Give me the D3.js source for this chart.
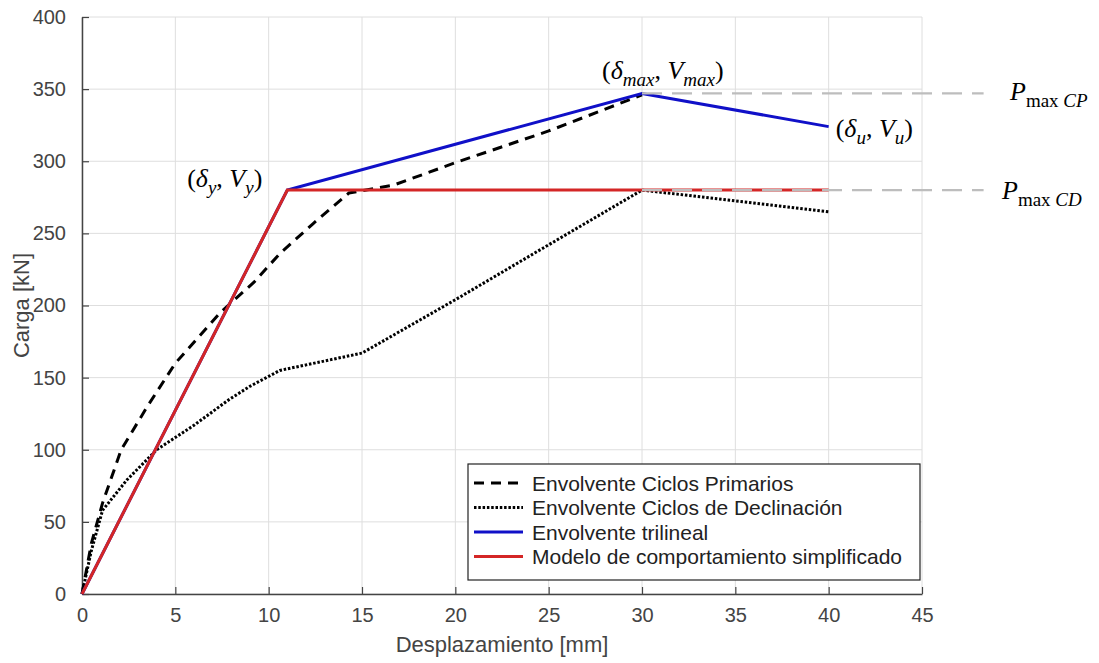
<!DOCTYPE html>
<html>
<head>
<meta charset="utf-8">
<script src="https://cdn.jsdelivr.net/npm/d3@7"></script>
<style>
  body { margin: 0; background: #fff; }
  svg { font-family: "Liberation Sans", Arial, sans-serif; }
</style>
</head>
<body>
<div id="chart"></div>
<script>
// ---- data ----
var primarios = [[0,0],[0.5,35],[1.1,63],[2.1,100],[3.5,130],[5,160],[7.4,195],[9.2,216],
                 [10.6,236],[12.4,257],[14.3,278],[16.7,283.5],[20,299],[25,321],[30,346]];
var declinacion = [[0,0],[0.5,30],[1.1,58],[2.4,79],[4,100],[6,117],[7.9,135],[9,144],
                   [10.6,155],[15,167],[20,204],[24.2,236],[30,280],[40,265]];
var trilineal = [[0,0],[11,280],[30,347],[40,324]];
var simplificado = [[0,0],[11,280],[40,280]];
var refLevels = [347, 280];          // P max CP, P max CD
var refStart = 30, refEnd = 48.3;    // dashed reference lines run past the axes

var xTicks = d3.range(0, 46, 5);
var yTicks = d3.range(0, 401, 50);
var legendNames = ["Envolvente Ciclos Primarios", "Envolvente Ciclos de Declinación",
                   "Envolvente trilineal", "Modelo de comportamiento simplificado"];

// ---- layout ----
var W = 1099, H = 663;
var margin = {left: 82, top: 17, right: 177, bottom: 69};
var w = W - margin.left - margin.right;
var h = H - margin.top - margin.bottom;

var svg = d3.select("#chart").append("svg")
    .attr("width", W).attr("height", H);

var g = svg.append("g")
    .attr("transform", "translate(" + margin.left + "," + margin.top + ")");

var x = d3.scaleLinear().domain([0, 45]).range([0, w]);
var y = d3.scaleLinear().domain([0, 400]).range([h, 0]);

// grid
g.selectAll(".vgrid").data(xTicks).enter().append("line")
    .attr("x1", function(d) { return x(d); }).attr("x2", function(d) { return x(d); })
    .attr("y1", 0).attr("y2", h)
    .style("stroke", "#dedede").style("stroke-width", 1);
g.selectAll(".hgrid").data(yTicks).enter().append("line")
    .attr("y1", function(d) { return y(d); }).attr("y2", function(d) { return y(d); })
    .attr("x1", 0).attr("x2", w)
    .style("stroke", "#dedede").style("stroke-width", 1);

// axes (MATLAB style ticks pointing in)
var xAxis = g.append("g").attr("transform", "translate(0," + h + ")")
    .call(d3.axisBottom(x).tickValues(xTicks).tickSizeInner(-7).tickSizeOuter(0).tickPadding(16));
var yAxis = g.append("g")
    .call(d3.axisLeft(y).tickValues(yTicks).tickSizeInner(-7).tickSizeOuter(0).tickPadding(16));
[xAxis, yAxis].forEach(function(a) {
    a.select(".domain").style("stroke", "#444").style("stroke-width", 1.5);
    a.selectAll(".tick line").style("stroke", "#444").style("stroke-width", 1.2);
    a.selectAll(".tick text").style("font-size", "20px").style("fill", "#444")
        .style("font-family", "Liberation Sans, Arial, sans-serif");
});
xAxis.selectAll(".tick text").attr("dy", "0.62em");

// axis labels
svg.append("text").attr("x", margin.left + w / 2).attr("y", 652)
    .attr("text-anchor", "middle").style("font-size", "22px").style("fill", "#444")
    .text("Desplazamiento [mm]");
svg.append("text")
    .attr("transform", "translate(29," + (margin.top + h / 2) + ") rotate(-90)")
    .attr("text-anchor", "middle").style("font-size", "22px").style("fill", "#444")
    .text("Carga [kN]");

// series
var line = d3.line().x(function(d) { return x(d[0]); }).y(function(d) { return y(d[1]); });
var styles = [
    {data: primarios, color: "#000", width: 3, dash: "10,7"},
    {data: declinacion, color: "#000", width: 3, dash: "2.5,1.8"},
    {data: trilineal, color: "#1010c8", width: 3, dash: null},
    {data: simplificado, color: "#d42626", width: 3, dash: null}
];
styles.forEach(function(s) {
    g.append("path").datum(s.data).attr("d", line)
        .style("fill", "none").style("stroke", s.color)
        .style("stroke-width", s.width)
        .style("stroke-dasharray", s.dash);
});

// gray reference lines
refLevels.forEach(function(v) {
    g.append("line")
        .attr("x1", x(refStart)).attr("x2", x(refEnd))
        .attr("y1", y(v)).attr("y2", y(v))
        .style("stroke", "#bdbdbd").style("stroke-width", 2.2)
        .style("stroke-dasharray", "20,10");
});

// math annotations
function mathLabel(px, py, parts, anchor) {
    var t = svg.append("text").attr("x", px).attr("y", py)
        .attr("text-anchor", anchor || "start")
        .style("font-family", "Liberation Serif, DejaVu Serif, serif")
        .style("font-size", "26px").style("fill", "#000");
    var shift = 0;
    parts.forEach(function(p) {
        var ts = t.append("tspan").text(p.t);
        if (p.i) ts.style("font-style", "italic");
        var target = p.sub ? 7 : 0;
        if (p.sub) ts.style("font-size", "19px");
        if (target !== shift) { ts.attr("dy", target - shift); shift = target; }
    });
    return t;
}
var X = function(v) { return margin.left + x(v); };
var Y = function(v) { return margin.top + y(v); };

mathLabel(X(11) - 25, Y(trilineal[1][1]) - 3, [
    {t: "("}, {t: "δ", i: 1}, {t: "y", i: 1, sub: 1}, {t: ", "}, {t: "V", i: 1},
    {t: "y", i: 1, sub: 1}, {t: ")"}], "end");
mathLabel(X(30) - 40, Y(trilineal[2][1]) - 14, [
    {t: "("}, {t: "δ", i: 1}, {t: "max", i: 1, sub: 1}, {t: ", "}, {t: "V", i: 1},
    {t: "max", i: 1, sub: 1}, {t: ")"}]);
mathLabel(X(40) + 7, Y(trilineal[3][1]) + 10, [
    {t: "("}, {t: "δ", i: 1}, {t: "u", i: 1, sub: 1}, {t: ", "}, {t: "V", i: 1},
    {t: "u", i: 1, sub: 1}, {t: ")"}]);
mathLabel(1010, Y(refLevels[0]) + 7, [
    {t: "P", i: 1}, {t: "max ", sub: 1}, {t: "CP", i: 1, sub: 1}]);
mathLabel(1002, Y(refLevels[1]) + 9, [
    {t: "P", i: 1}, {t: "max ", sub: 1}, {t: "CD", i: 1, sub: 1}]);

// legend
var lg = svg.append("g").attr("transform", "translate(468,464)");
lg.append("rect").attr("width", 452).attr("height", 116)
    .style("fill", "#fff").style("stroke", "#222").style("stroke-width", 1.2);
legendNames.forEach(function(name, i) {
    var s = styles[i];
    var yy = 19 + i * 24.5;
    lg.append("line").attr("x1", 6).attr("x2", 55).attr("y1", yy).attr("y2", yy)
        .style("stroke", s.color).style("stroke-width", s.width)
        .style("stroke-dasharray", s.dash);
    lg.append("text").attr("x", 64).attr("y", yy).attr("dy", "0.36em")
        .style("font-size", "21px").style("fill", "#222").text(name);
});
</script>
</body>
</html>
